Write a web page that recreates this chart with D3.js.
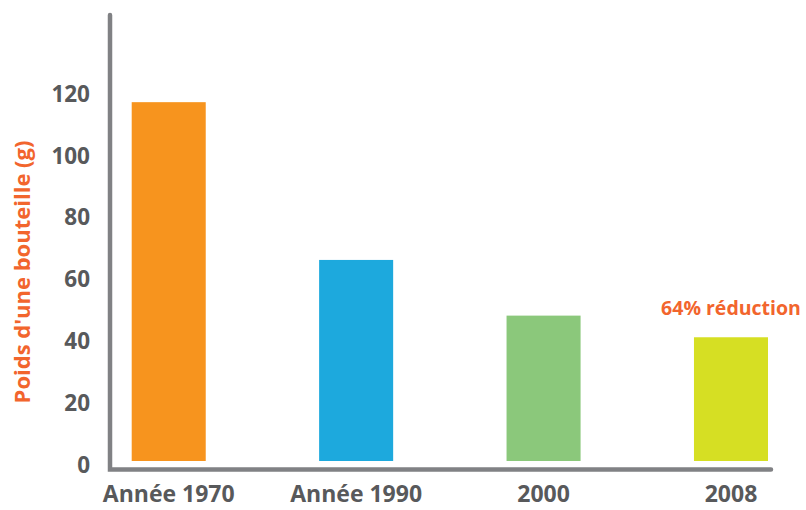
<!DOCTYPE html>
<html>
<head>
<meta charset="utf-8">
<script src="https://cdn.jsdelivr.net/npm/d3@7"></script>
<style>
  html, body { margin: 0; padding: 0; background: #fff; }
  svg { display: block; }
  text { font-family: "Open Sans", "DejaVu Sans", sans-serif; font-weight: 700; }
</style>
</head>
<body>
<svg id="chart" width="806" height="510"></svg>
<script>
const categories = ["Année 1970", "Année 1990", "2000", "2008"];
const values = [116, 65, 47, 40];
const barColors = ["#f7941e", "#1da9dd", "#8bc87b", "#d6df23"];
const yTicks = [0, 20, 40, 60, 80, 100, 120];
const yTitle = "Poids d'une bouteille (g)";
const annotation = "64% réduction";

const svg = d3.select("#chart");
const axisColor = "#808184";
const tickColor = "#58595b";
const accent = "#f2652d";

const y = d3.scaleLinear().domain([0, 120]).range([461, 89.8]);
const x = d3.scaleBand().domain(categories).range([131.7, 768]).paddingInner(0.605).paddingOuter(0);

// bars
svg.append("g").selectAll("rect").data(values).join("rect")
  .attr("x", (d, i) => x(categories[i]))
  .attr("width", x.bandwidth())
  .attr("y", d => y(d))
  .attr("height", d => y(0) - y(d))
  .attr("fill", (d, i) => barColors[i]);

// axes lines
const baseY = y(0) + 8.5;
svg.append("path")
  .attr("d", `M110,15 L110,${baseY} L771,${baseY}`)
  .attr("fill", "none")
  .attr("stroke", axisColor)
  .attr("stroke-width", 4.5)
  .attr("stroke-linecap", "round")
  .attr("stroke-linejoin", "miter");

// y tick labels
const yAxis = svg.append("g").attr("transform", "translate(110,0)")
  .call(d3.axisLeft(y).tickValues(yTicks).tickSize(0).tickPadding(20));
yAxis.select(".domain").remove();
yAxis.selectAll("text")
  .attr("dy", "0.35em")
  .attr("transform", "translate(0,3.5)")
  .attr("fill", tickColor)
  .style("font-size", "22.5px")
  .style("font-family", "'Open Sans', sans-serif")
  .style("font-weight", 700);

// x labels
const xAxis = svg.append("g").attr("transform", `translate(0,${baseY})`)
  .call(d3.axisBottom(x).tickSize(0).tickPadding(0));
xAxis.select(".domain").remove();
xAxis.selectAll("text")
  .attr("dy", null)
  .attr("y", 32.5)
  .attr("fill", tickColor)
  .style("font-size", "23px")
  .style("font-family", "'Open Sans', sans-serif")
  .style("font-weight", 700);

// y title
svg.append("text")
  .attr("transform", "translate(30,272) rotate(-90)")
  .attr("text-anchor", "middle")
  .attr("fill", accent)
  .style("font-size", "22px")
  .text(yTitle);

// annotation
svg.append("text")
  .attr("x", x("2008") + x.bandwidth() / 2)
  .attr("y", 315)
  .attr("text-anchor", "middle")
  .attr("fill", accent)
  .style("font-size", "19.5px")
  .text(annotation);
</script>
</body>
</html>
